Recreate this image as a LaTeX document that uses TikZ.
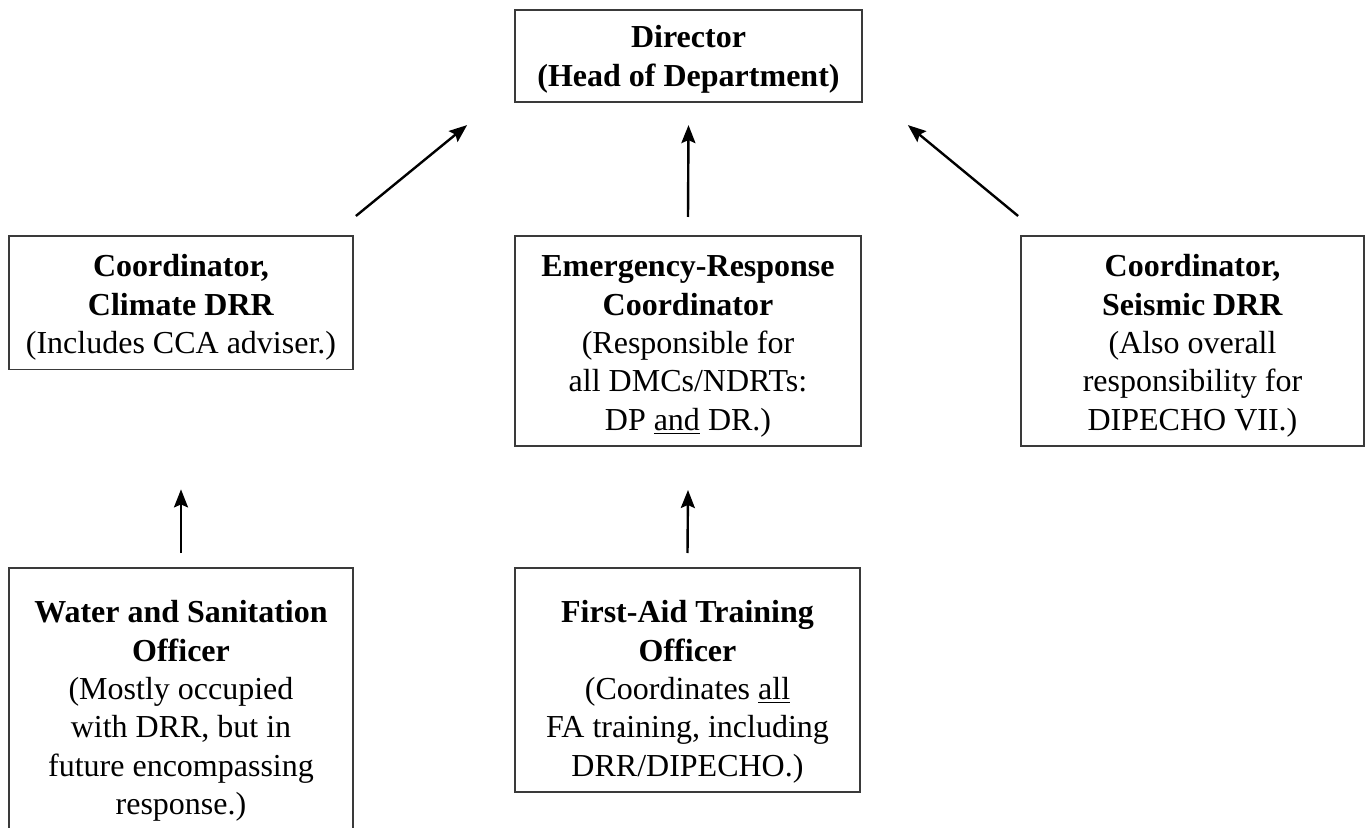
\documentclass[tikz,border=0pt]{standalone}
\usepackage{fontspec}
\setmainfont{Liberation Serif}
\usetikzlibrary{arrows.meta}
\definecolor{orgLine}{HTML}{3a3a3a}
\tikzset{
  >={Stealth[length=9pt,width=7pt,inset=1.5pt]},
  post/.style={draw=orgLine, line width=0.9pt, align=center, inner sep=0pt, anchor=north,
              font=\fontsize{16}{19.15}\selectfont, minimum width=172pt},
  flow/.style={->, draw=black, line width=1.2pt},
}
% invisible struts: room above the first line, fixed depth under the last
\newcommand{\topgap}[1]{\rule{0pt}{#1}}
\newcommand{\lowgap}{\rule[-8pt]{0pt}{8pt}}

\begin{document}
\begin{tikzpicture}[x=0.5pt,y=-0.5pt]
    \useasboundingbox (0,0) rectangle (1370,828);
    \clip (0,0) rectangle (1370,828);

    % head
    \node[post,minimum width=173.5pt] (dir) at (688.5,9)
      {\topgap{19pt}\textbf{Director}\\\textbf{(Head of Department)}\lowgap};

    % coordinators
    \node[post] (climate) at (181,235)
      {\topgap{20.5pt}\textbf{Coordinator,}\\\textbf{Climate DRR}\\(Includes CCA adviser.)\lowgap};
    \node[post,minimum width=173pt] (emerg) at (688,235)
      {\topgap{20.5pt}\textbf{Emergency-Response}\\\textbf{Coordinator}\\(Responsible for\\all DMCs/NDRTs:\\DP \underline{and} DR.)\lowgap};
    \node[post,minimum width=171.5pt] (seismic) at (1192.5,235)
      {\topgap{20.5pt}\textbf{Coordinator,}\\\textbf{Seismic DRR}\\(Also overall\\responsibility for\\DIPECHO VII.)\lowgap};

    % officers
    \node[post] (water) at (181,567)
      {\topgap{27.5pt}\textbf{Water and Sanitation}\\\textbf{Officer}\\(Mostly occupied\\with DRR, but in\\future encompassing\\response.)\lowgap};
    \node[post,minimum width=172.5pt] (aid) at (687.5,567)
      {\topgap{27.5pt}\textbf{First-Aid Training}\\\textbf{Officer}\\(Coordinates \underline{all}\\FA training, including\\DRR/DIPECHO.)\lowgap};

    % reporting lines
    \draw[flow] ([xshift=1pt,yshift=9.5pt]climate.north east) -- ([xshift=-23.5pt,yshift=-11pt]dir.south west);
    \draw[flow] ([yshift=9pt]emerg.north) -- ([yshift=-11pt]dir.south);
    \draw[flow] ([xshift=-1pt,yshift=9.5pt]seismic.north west) -- ([xshift=22.5pt,yshift=-11pt]dir.south east);
    \draw[flow] ([yshift=7pt]water.north) -- ([yshift=-59.5pt]climate.south);
    \draw[flow] ([yshift=7pt]aid.north) -- ([yshift=-21.5pt]emerg.south);
\end{tikzpicture}
\end{document}
